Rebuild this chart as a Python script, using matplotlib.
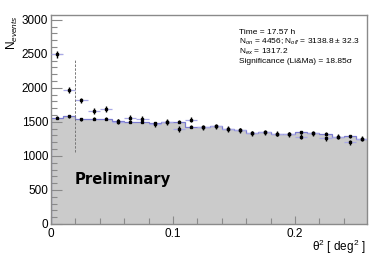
import numpy as np
import matplotlib

matplotlib.use("Agg")
import matplotlib.pyplot as plt
from matplotlib.ticker import MultipleLocator, FuncFormatter

plt.rcParams["mathtext.fontset"] = "custom"
plt.rcParams["mathtext.rm"] = "Liberation Sans"
plt.rcParams["mathtext.it"] = "Liberation Sans:italic"
plt.rcParams["mathtext.sf"] = "Liberation Sans"

# theta^2 histogram, bins of 0.01 deg^2
bin_edges = np.round(np.arange(0, 0.261, 0.01), 3)
on_counts = [2490, 1966, 1815, 1660, 1685, 1505, 1560, 1545, 1465, 1500,
             1395, 1530, 1420, 1435, 1395, 1380, 1335, 1345, 1325, 1320,
             1285, 1335, 1260, 1280, 1200, 1250]
off_counts = [1560, 1579, 1540, 1545, 1545, 1515, 1505, 1500, 1480, 1505,
              1500, 1425, 1420, 1435, 1400, 1385, 1340, 1345, 1320, 1325,
              1350, 1330, 1325, 1280, 1290, 1250]
theta2_cut = 0.02

info_lines = [
    "Time = 17.57 h",
    "N$_{on}$ = 4456; N$_{off}$ = 3138.8 \u00b1 32.3",
    "N$_{ex}$ = 1317.2",
    "Significance (Li&Ma) = 18.85\u03c3",
]

on = np.array(on_counts, dtype=float)
off = np.array(off_counts, dtype=float)
centers = 0.5 * (bin_edges[:-1] + bin_edges[1:])
half_width = 0.5 * np.diff(bin_edges)

fig = plt.figure(figsize=(3.91, 2.58), dpi=100)
ax = fig.add_axes([0.1304, 0.1318, 0.8082, 0.8101])

frame_color = "#8a8a8a"
blue = "#7b7bd0"
light_blue = "#a9a9e6"

ax.stairs(off, bin_edges, fill=True, color="#cbcbcb", zorder=1)
ax.stairs(off, bin_edges, color=blue, linewidth=0.9, zorder=2)

ax.errorbar(centers, off, yerr=np.sqrt(off) * 0.58, fmt="s", ms=2.0, color="black",
            elinewidth=1.0, capsize=0, zorder=4)
ax.errorbar(centers, on, xerr=half_width, fmt="none", ecolor=light_blue, elinewidth=0.9, zorder=3)
ax.errorbar(centers, on, yerr=np.sqrt(on), fmt="s", ms=2.0, color="black",
            elinewidth=1.0, capsize=0, zorder=5)

ax.plot([theta2_cut, theta2_cut], [1060, 2430], linestyle=(0, (2.5, 1.5)), color="#777777",
        linewidth=0.7, zorder=3)

ax.set_xlim(0, 0.259)
ax.set_ylim(0, 3070)
ax.xaxis.set_major_locator(MultipleLocator(0.1))
ax.xaxis.set_minor_locator(MultipleLocator(0.02))
ax.yaxis.set_major_locator(MultipleLocator(500))
ax.yaxis.set_minor_locator(MultipleLocator(100))
ax.xaxis.set_major_formatter(FuncFormatter(lambda v, p: f"{v:g}"))

ax.tick_params(which="both", direction="in", top=False, right=False, color=frame_color,
               labelsize=8.5, labelcolor="black", width=0.8)
ax.tick_params(axis="y", which="major", length=8, pad=2)
ax.tick_params(axis="y", which="minor", length=4)
ax.tick_params(axis="x", which="major", length=6, pad=3)
ax.tick_params(axis="x", which="minor", length=4)
for label in ax.get_xticklabels() + ax.get_yticklabels():
    label.set_fontfamily("Liberation Sans")

for spine in ax.spines.values():
    spine.set_color(frame_color)
    spine.set_linewidth(1.0)

fig.text(12 / 391, 1 - 15 / 258, "N$_{events}$", rotation=90, ha="center", va="top",
         fontsize=8.5, family="Liberation Sans")
fig.text(366 / 391, 1 - 247 / 258, "\u03b8$^{2}$ [ deg$^{2}$ ]", ha="right", va="center",
         fontsize=8.5, family="Liberation Sans")

ax.text(0.075, 0.215, "Preliminary", transform=ax.transAxes, fontsize=10.6,
        fontweight="bold", family="DejaVu Sans", ha="left", va="center")

for i, line in enumerate(info_lines):
    fig.text(239 / 391, 1 - (32 + i * 9.9) / 258, line, ha="left", va="center",
             fontsize=6.0, family="Liberation Sans")

fig.savefig("out.png", dpi=100)
